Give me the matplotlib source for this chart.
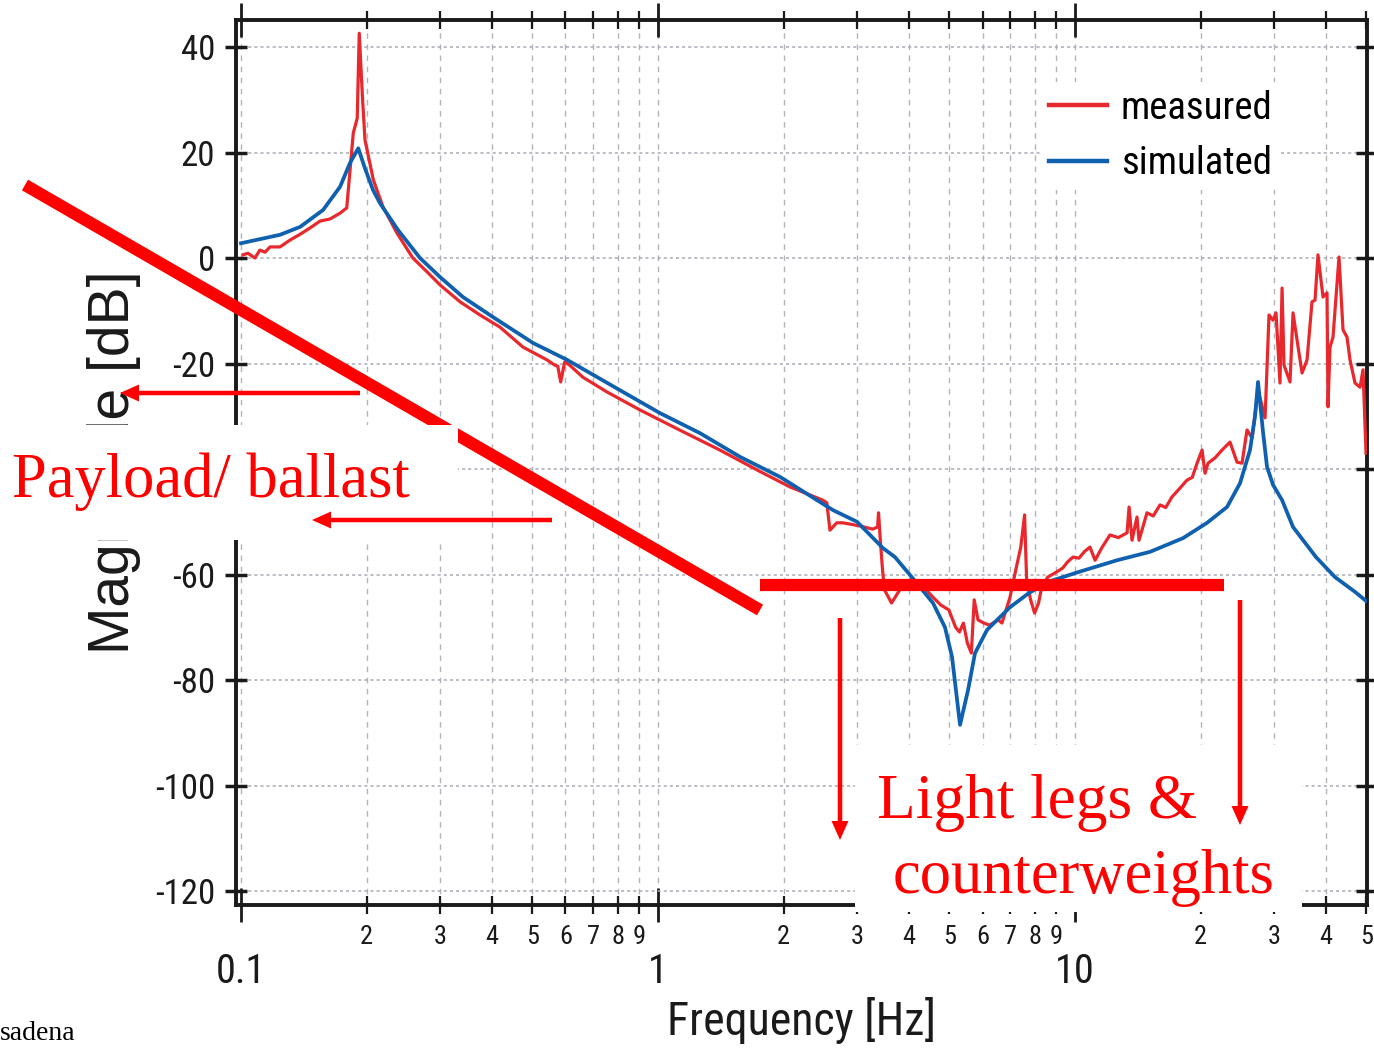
import numpy as np
import matplotlib
matplotlib.use('Agg')
import matplotlib.pyplot as plt
from matplotlib import font_manager
from matplotlib.patches import Rectangle, FancyArrow
from matplotlib.ticker import LogLocator, FuncFormatter, NullLocator

# measured transfer function (Hz, dB)
meas_f = [0.1011, 0.1039, 0.1080, 0.1110, 0.1142, 0.1174, 0.1240, 0.1311, 0.1386, 0.1464,
          0.1547, 0.1635, 0.1728, 0.1793, 0.1859, 0.1900, 0.1921, 0.1957, 0.1983, 0.2077,
          0.2190, 0.2367, 0.2583, 0.2792, 0.3001, 0.3352, 0.3742, 0.4178, 0.4747, 0.5414,
          0.5655, 0.5749, 0.5843, 0.5973, 0.6137, 0.6604, 0.7548, 0.9050, 1.1265, 1.4069,
          1.7304, 2.0730, 2.4843, 2.5398, 2.5842, 2.6827, 2.7750, 3.0536, 3.2706, 3.3612,
          3.3795, 3.4165, 3.4544, 3.4920, 3.6307, 3.8005, 4.0361, 4.3948, 4.5643, 4.7682,
          4.9822, 5.1716, 5.2829, 5.3999, 5.5197, 5.6415, 5.7313, 5.8523, 6.0432, 6.2396,
          6.5400, 6.6810, 6.9851, 7.2120, 7.4120, 7.5700, 7.6550, 7.8260, 8.0000, 8.1780,
          8.3180, 8.6000, 9.0000, 9.3380, 9.6000, 9.8900, 10.22, 10.55, 10.86, 11.17,
          11.60, 12.13, 12.70, 13.33, 13.48, 13.70, 14.08, 14.24, 14.88, 15.40,
          15.99, 16.50, 17.08, 17.86, 18.56, 19.10, 19.62, 20.17, 20.50, 20.84,
          21.66, 22.52, 23.53, 24.46, 25.15, 25.85, 26.58, 27.47, 28.56, 29.19,
          29.84, 30.34, 31.01, 31.37, 31.71, 32.78, 33.33, 34.07, 35.03, 36.01,
          37.01, 37.63, 38.25, 39.33, 40.21, 40.43, 40.88, 41.56, 42.96, 43.92,
          44.90, 45.65, 46.93, 48.25, 49.05, 49.87]
meas_db = [0.6, 0.9, 0.0, 1.5, 1.1, 2.1, 2.1, 3.4, 4.5, 5.7,
           7.0, 7.4, 8.5, 9.5, 23.7, 26.5, 42.6, 30.0, 22.4, 14.8,
           9.7, 4.7, 0.0, -2.6, -5.1, -8.3, -10.8, -13.1, -16.9, -19.3,
           -20.3, -20.5, -23.5, -19.7, -20.3, -22.6, -25.4, -28.8, -32.6, -36.4,
           -40.2, -43.4, -45.9, -46.4, -51.6, -50.2, -50.2, -50.8, -51.4, -51.0,
           -48.3, -54.0, -59.1, -62.9, -65.4, -62.9, -61.0, -62.9, -64.3, -65.8,
           -66.7, -70.0, -70.9, -69.2, -73.0, -74.9, -64.8, -68.6, -69.2, -69.6,
           -68.6, -69.2, -64.3, -59.1, -54.8, -48.7, -61.0, -64.8, -67.3, -65.4,
           -62.4, -60.5, -59.6, -58.8, -57.6, -56.7, -56.9, -55.6, -54.8, -57.3,
           -54.9, -52.5, -53.0, -52.1, -47.2, -53.5, -49.1, -53.5, -48.3, -48.9,
           -46.8, -47.3, -45.3, -43.6, -42.1, -41.6, -38.9, -36.4, -40.8, -38.9,
           -37.9, -36.4, -34.9, -38.7, -38.9, -32.6, -34.1, -25.0, -30.3, -10.8,
           -11.8, -10.4, -23.7, -5.7, -20.3, -23.5, -10.4, -15.5, -21.8, -19.3,
           -8.3, -8.0, 0.6, -7.4, -6.6, -28.2, -16.9, -15.0, 0.2, -13.6,
           -15.0, -19.3, -23.7, -24.5, -21.2, -37.0]

# simulated transfer function (Hz, dB)
sim_f = [0.100, 0.1240, 0.1386, 0.1573, 0.1728, 0.1825, 0.1911, 0.1983, 0.2073, 0.2154,
         0.2380, 0.2687, 0.3001, 0.3406, 0.4021, 0.5014, 0.6050, 0.6869, 0.8246, 1.011,
         1.261, 1.573, 1.962, 2.406, 2.629, 3.001, 3.464, 3.701, 4.111, 4.565,
         4.877, 5.070, 5.300, 5.540, 5.757, 6.152, 6.985, 7.757, 8.614, 10.22,
         12.61, 15.13, 18.16, 20.73, 23.15, 24.87, 26.28, 27.02, 27.47, 28.24,
         28.87, 29.84, 31.37, 33.33, 37.84, 42.03, 46.95, 49.87]
sim_db = [2.8, 4.4, 5.9, 9.1, 13.5, 18.0, 20.8, 17.0, 12.9, 10.4,
          5.3, 0.0, -3.6, -7.4, -11.2, -16.1, -19.3, -21.8, -25.4, -29.4,
          -33.2, -37.7, -41.5, -45.9, -47.8, -50.0, -55.0, -56.7, -61.0, -65.4,
          -70.0, -75.6, -88.5, -81.9, -74.9, -70.5, -66.2, -63.5, -61.4, -59.5,
          -57.3, -55.7, -53.1, -50.2, -47.2, -42.7, -36.4, -30.0, -23.5, -33.0,
          -39.6, -43.0, -45.9, -51.0, -56.7, -60.5, -63.3, -65.0]

yticks = [-120, -100, -80, -60, -40, -20, 0, 20, 40]

# pick a narrow sans for the squeezed-looking axis text
entries = [(f.name, f.stretch) for f in font_manager.fontManager.ttflist]
narrow, stretch, k = 'Liberation Sans', 'normal', 0.82
for want in ['Liberation Sans Narrow', 'Roboto Condensed', 'Open Sans Condensed']:
    if any(n == want for n, s in entries):
        narrow, stretch, k = want, 'normal', 1.0
        break
else:
    for n, s in entries:
        if n in ('DejaVu Sans', 'Roboto', 'Open Sans') and 'condensed' in str(s):
            narrow, stretch, k = n, 'condensed', 0.95
            break

plt.rcParams['font.family'] = [narrow, 'DejaVu Sans']
plt.rcParams['font.stretch'] = stretch
plt.rcParams['axes.unicode_minus'] = False

fig = plt.figure(figsize=(13.74, 10.51), dpi=100)
ax = fig.add_axes([236 / 1374, 1 - 905 / 1051, 1131 / 1374, 885 / 1051])

ax.plot(meas_f, meas_db, color='#e8282d', lw=2.3, label='measured', zorder=3)
ax.plot(sim_f, sim_db, color='#1060b0', lw=2.7, label='simulated', zorder=4)

ax.set_xscale('log')
ax.set_xlim(0.09728, 50.14)
ax.set_ylim(-122.65, 45.12)
ax.set_yticks(yticks)
ax.yaxis.set_minor_locator(NullLocator())
ax.xaxis.set_major_locator(LogLocator(base=10, numticks=10))
ax.xaxis.set_minor_locator(LogLocator(base=10, subs=np.arange(2, 10), numticks=20))
ax.xaxis.set_major_formatter(FuncFormatter(lambda v, p: '%g' % v))
ax.xaxis.set_minor_formatter(FuncFormatter(
    lambda v, p: '%d' % round(v / 10 ** np.floor(np.log10(v) + 1e-9))))

ax.tick_params(axis='x', which='major', direction='inout', length=24, width=2,
               labelsize=29 * k, pad=22, top=True, colors='#1a1a1a')
ax.tick_params(axis='x', which='minor', direction='inout', length=13, width=1.6,
               labelsize=19 * k, pad=8, top=True, colors='#1a1a1a')
ax.tick_params(axis='y', which='major', direction='inout', length=16, width=2.5,
               labelsize=25 * k, pad=7, right=True, colors='#1a1a1a')
for s in ax.spines.values():
    s.set_linewidth(2.8)
    s.set_color('#1a1a1a')

ax.grid(which='both', axis='x', ls=(0, (4, 4)), color='#b2b4bc', lw=1)
ax.grid(which='major', axis='y', ls=(0, (2, 2)), color='#a8abb4', lw=1.1)
ax.set_axisbelow(True)

ax.set_xlabel('Frequency [Hz]', fontsize=33 * k, color='#1a1a1a')
ax.xaxis.set_label_coords(0.5, -0.104)
ax.xaxis.label.set_va('top')
ax.set_ylabel('Magnitude [dB]', fontsize=41, family='Liberation Sans',
              stretch='normal', color='#1a1a1a')
ax.yaxis.set_label_coords(-0.108, 0.500)
ax.yaxis.label.set_va('center')

leg = ax.legend(loc='upper left', bbox_to_anchor=(0.712, 0.930), fontsize=28 * k,
                frameon=True, facecolor='white', edgecolor='none', framealpha=1,
                handlelength=1.5, handletextpad=0.35, labelspacing=0.48,
                borderpad=0.2, borderaxespad=0)
for h in leg.get_lines():
    h.set_linewidth(3.2)

# slide annotations drawn on top, in pixel units
ov = fig.add_axes([0, 0, 1, 1], zorder=10)
ov.set_xlim(0, 1374)
ov.set_ylim(1051, 0)
ov.axis('off')
ov.patch.set_alpha(0)

red = '#ff0000'
ov.plot([25, 760], [185, 610], color=red, lw=8.8, solid_capstyle='butt', zorder=1)
ov.plot([760, 1224], [585, 585], color=red, lw=8.8, solid_capstyle='butt', zorder=1)
ov.add_patch(Rectangle((0, 425), 458, 115, fc='white', ec='none', zorder=2))
ov.add_patch(Rectangle((855, 745), 447, 167, fc='white', ec='none', zorder=2))

arrows = [(360, 393, -240, 0), (552, 520, -240, 0), (840, 618, 0, 222), (1240, 600, 0, 225)]
for x0, y0, dx, dy in arrows:
    ov.add_patch(FancyArrow(x0, y0, dx, dy, width=4.5, head_width=17, head_length=19,
                            length_includes_head=True, color=red, lw=0, zorder=3))

serif = 'Liberation Serif'
ov.text(12, 497, 'Payload/ ballast', color=red, fontsize=45, family=serif,
        stretch='normal', va='baseline', ha='left', zorder=3)
ov.text(877, 818, 'Light legs &', color=red, fontsize=45.5, family=serif,
        stretch='normal', va='baseline', ha='left', zorder=3)
ov.text(893, 893, 'counterweights', color=red, fontsize=45, family=serif,
        stretch='normal', va='baseline', ha='left', zorder=3)
ov.text(0, 1040, 'sadena', color='black', fontsize=20, family=serif,
        stretch='normal', va='baseline', ha='left', zorder=3)

fig.savefig('out.png', dpi=100)
